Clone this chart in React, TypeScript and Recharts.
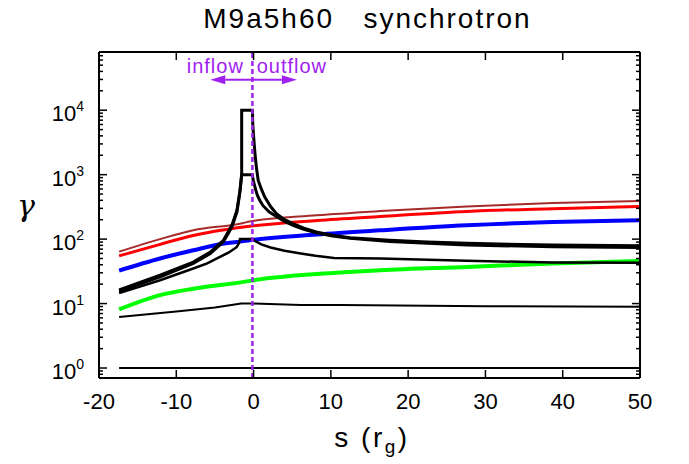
import React from 'react';
import {LineChart, Line, XAxis, YAxis, ReferenceLine} from 'recharts';

const FONT = '"Liberation Sans", Arial, Helvetica, sans-serif';
const PURPLE = '#a020f0';

// tick positions
const xTicks = [-20, -10, 0, 10, 20, 30, 40, 50];
const yMajor = [1, 10, 100, 1000, 10000];
const yMinor = [0.8, 0.9, ...yMajor.flatMap((d) => [2, 3, 4, 5, 6, 7, 8, 9].map((m) => m * d))].filter((v) => v < 80000);
const yTicks = [...yMajor, ...yMinor].sort((a, b) => a - b);

// series, [s (r_g), gamma]
const brown: [number, number][] = [
    [-17.4, 64], [-12.1, 100], [-7.8, 137], [-1.3, 178], [-0.5, 188], [8.2, 234],
    [16.4, 272], [27.6, 322], [38.7, 362], [50, 392],
];
const red: [number, number][] = [
    [-17.4, 55], [-12.1, 83], [-7.8, 114], [-1.3, 154], [8.2, 195], [16.4, 225],
    [27.6, 269], [38.7, 297], [50, 322],
];
const blue: [number, number][] = [
    [-17.4, 32.5], [-12.1, 50], [-7.8, 67], [-4.35, 83], [-1.3, 93], [-0.5, 96],
    [8.2, 118], [16.4, 137], [27.6, 164], [38.7, 184], [50, 196],
];
const green: [number, number][] = [
    [-17.4, 8.1], [-12.1, 13.5], [-7.8, 17], [-1.3, 21.7], [0, 23], [11.2, 30.3],
    [16.4, 33], [27.6, 37], [38.7, 41.7], [50, 46],
];
const peak4: [number, number][] = [
    [-17.4, 16.3], [-12.1, 27.5], [-7.8, 44], [-5.6, 63], [-3.9, 96], [-2.8, 164],
    [-2.15, 280], [-1.76, 570], [-1.54, 1000], [-1.54, 10000], [-0.15, 10000],
    [-0.1, 6000], [0.0, 4000], [0.2, 2000], [0.4, 1200], [0.6, 815], [1.0, 600],
    [1.45, 450], [2.2, 320], [2.96, 248], [4.0, 200], [5.1, 174], [6.5, 148],
    [8.1, 129], [10.2, 115], [12.5, 105], [17.6, 96], [22.5, 90], [27.6, 86],
    [38.7, 81], [50, 79],
];
const peak3: [number, number][] = [
    [-17.4, 15.5], [-12.1, 26], [-7.8, 42], [-5.6, 60], [-3.9, 91], [-2.8, 155],
    [-2.15, 265], [-1.76, 540], [-1.54, 1000], [-0.15, 1000], [-0.05, 820],
    [0.1, 700], [0.3, 570], [0.5, 476], [0.8, 400], [1.2, 333], [2.0, 265],
    [2.96, 225], [4.0, 188], [5.1, 163], [6.5, 142], [8.1, 125], [10.2, 112],
    [12.5, 103], [17.6, 92], [22.5, 86], [27.6, 81], [38.7, 76], [50, 74],
];
const peak2: [number, number][] = [
    [-17.4, 14.5], [-12.1, 23], [-7.8, 35], [-6.0, 42], [-4.35, 53], [-3.2, 62],
    [-2.2, 75], [-1.9, 86], [-1.76, 100], [-0.15, 100], [0.3, 92], [1.0, 83],
    [2.2, 74], [4.0, 66], [6.1, 60], [8.0, 55], [10.4, 51], [16.4, 50],
    [27.6, 46], [38.7, 43.5], [50, 42.8],
];
const peak1: [number, number][] = [
    [-17.4, 6.2], [-10, 7.5], [-5, 8.7], [-1.6, 10], [-0.15, 10], [6.1, 9.5],
    [11.2, 9.5], [30, 9.1], [50, 8.9],
];
const floor: [number, number][] = [[-17.4, 1], [50, 1]];

const HORIZON = -0.15;
const ARROW_Y = 29700;

const pts = (arr: [number, number][]) => arr.map(([s, g]) => ({s, g}));

const YTick = ({x, y, payload, side}: any) => {
    const v = payload.value;
    const major = yMajor.includes(v);
    const len = major ? 8 : 4;
    const dir = side === 'left' ? 1 : -1;
    return (
        <g>
            <line x1={x} y1={y} x2={x + dir * len} y2={y} stroke="#000" strokeWidth={1.5}/>
            {major && side === 'left' && (
                <text x={x - 15} y={y + 11} textAnchor="end" fontFamily={FONT} fontSize={22} fill="#000">
                    10<tspan dy={-10} fontSize={14}>{Math.round(Math.log10(v))}</tspan>
                </text>
            )}
        </g>
    );
};

const XTick = ({x, y, payload, side}: any) => {
    const dir = side === 'bottom' ? -1 : 1;
    return (
        <g>
            <line x1={x} y1={y} x2={x} y2={y + dir * 8} stroke="#000" strokeWidth={1.5}/>
            {side === 'bottom' && (
                <text x={x} y={y + 31} textAnchor="middle" fontFamily={FONT} fontSize={22} fill="#000">
                    {payload.value}
                </text>
            )}
        </g>
    );
};

const Arrow = ({x1, y1, x2, y2, text}: any) => {
    const dir = x2 < x1 ? -1 : 1;
    const head = 15;
    return (
        <g>
            <line x1={x1} y1={y1} x2={x2 - dir * head} y2={y2} stroke={PURPLE} strokeWidth={2}/>
            <polygon points={`${x2},${y2} ${x2 - dir * head},${y2 - 4.5} ${x2 - dir * head},${y2 + 4.5}`} fill={PURPLE}/>
            <text x={x2 - dir * 5} y={y2 - 6.6} textAnchor="middle" fontFamily={FONT} fontSize={20}
                  letterSpacing={1} fill={PURPLE}>{text}</text>
        </g>
    );
};

export default function App() {
    // axes get 1px of room each: a zero-sized axis is not drawn
    const yProps = {
        type: 'number' as const,
        scale: 'log' as const,
        domain: [0.7, 80000],
        allowDataOverflow: true,
        ticks: yTicks,
        interval: 0 as const,
        width: 1,
        tickSize: 0,
        tickMargin: 0,
        tickLine: false,
        axisLine: {stroke: '#000', strokeWidth: 2},
    };
    const xProps = {
        type: 'number' as const,
        dataKey: 's',
        domain: [-20, 50],
        allowDataOverflow: true,
        ticks: xTicks,
        interval: 0 as const,
        height: 1,
        tickSize: 0,
        tickMargin: 0,
        tickLine: false,
        axisLine: {stroke: '#000', strokeWidth: 2},
    };

    return (
        <div style={{position: 'absolute', left: 0, top: 0, width: 689, height: 464, background: '#fff'}}>
            <LineChart width={689} height={464} margin={{top: 51, right: 48, bottom: 85, left: 98}}>
                <XAxis {...xProps} xAxisId={0} orientation="bottom" tick={(p: any) => <XTick {...p} side="bottom"/>}/>
                <XAxis {...xProps} xAxisId="top" orientation="top" tick={(p: any) => <XTick {...p} side="top"/>}/>
                <YAxis {...yProps} yAxisId={0} orientation="left" tick={(p: any) => <YTick {...p} side="left"/>}/>
                <YAxis {...yProps} yAxisId="right" orientation="right" tick={(p: any) => <YTick {...p} side="right"/>}/>

                <Line data={pts(brown)} dataKey="g" type="monotone" stroke="#a52a2a" strokeWidth={2} dot={false} isAnimationActive={false}/>
                <Line data={pts(red)} dataKey="g" type="monotone" stroke="#ff0000" strokeWidth={3} dot={false} isAnimationActive={false}/>
                <Line data={pts(blue)} dataKey="g" type="monotone" stroke="#0000ff" strokeWidth={4} dot={false} isAnimationActive={false}/>
                <Line data={pts(green)} dataKey="g" type="monotone" stroke="#00ff00" strokeWidth={4} dot={false} isAnimationActive={false}/>
                <Line data={pts(peak4)} dataKey="g" type="linear" stroke="#000" strokeWidth={3} dot={false} isAnimationActive={false}/>
                <Line data={pts(peak3)} dataKey="g" type="linear" stroke="#000" strokeWidth={3} dot={false} isAnimationActive={false}/>
                <Line data={pts(peak2)} dataKey="g" type="linear" stroke="#000" strokeWidth={2.5} dot={false} isAnimationActive={false}/>
                <Line data={pts(peak1)} dataKey="g" type="linear" stroke="#000" strokeWidth={2} dot={false} isAnimationActive={false}/>
                <Line data={pts(floor)} dataKey="g" type="linear" stroke="#000" strokeWidth={2} dot={false} isAnimationActive={false}/>

                <ReferenceLine x={HORIZON} stroke={PURPLE} strokeWidth={2.5} strokeDasharray="5 3"/>
                <ReferenceLine segment={[{x: HORIZON, y: ARROW_Y}, {x: -5.6, y: ARROW_Y}]}
                               shape={(p: any) => <Arrow {...p} text="inflow"/>}/>
                <ReferenceLine segment={[{x: HORIZON, y: ARROW_Y}, {x: 5.6, y: ARROW_Y}]}
                               shape={(p: any) => <Arrow {...p} text="outflow"/>}/>
            </LineChart>
            <svg width={689} height={464} style={{position: 'absolute', left: 0, top: 0, pointerEvents: 'none'}}>
                <text x={367.5} y={28} textAnchor="middle" fontFamily={FONT} fontSize={28} letterSpacing={2}
                      xmlSpace="preserve" style={{whiteSpace: 'pre'}} fill="#000">M9a5h60   synchrotron</text>
                <text x={26} y={216} textAnchor="middle" fontFamily='"DejaVu Serif", serif' fontStyle="italic"
                      fontSize={30} fill="#000">γ</text>
                <text x={372} y={447} textAnchor="middle" fontFamily={FONT} fontSize={28} letterSpacing={2.5}
                      xmlSpace="preserve" style={{whiteSpace: 'pre'}} fill="#000">
                    s (r<tspan fontSize={19} dy={6}>g</tspan><tspan dy={-6}>)</tspan>
                </text>
            </svg>
        </div>
    );
}
